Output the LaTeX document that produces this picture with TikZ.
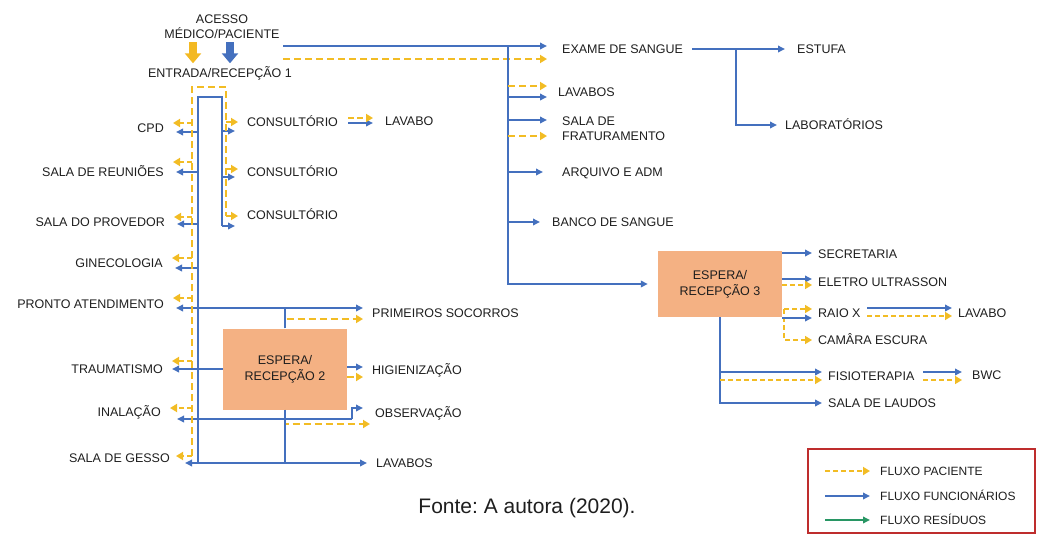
\documentclass[tikz,border=0pt]{standalone}
\usepackage{fontspec}
\setmainfont{Liberation Sans}
\usetikzlibrary{arrows.meta}
\definecolor{fblue}{RGB}{68,112,190}
\definecolor{fgold}{RGB}{242,188,36}
\definecolor{fsalmon}{RGB}{244,177,131}
\definecolor{fgreen}{RGB}{40,150,100}
\definecolor{fred}{RGB}{190,45,45}
\definecolor{ftext}{RGB}{30,30,30}
\frenchspacing
\begin{document}
\begin{tikzpicture}[x=1pt,y=-1pt,
  >={Triangle[length=7pt,width=6.5pt]},
  blu/.style={draw=fblue,line width=1.8pt},
  pat/.style={draw=fgold,line width=2.6pt,dash pattern=on 7pt off 4pt},
  patthin/.style={draw=fgold,line width=1.6pt,dash pattern=on 5pt off 3pt},
  ptip/.style={-{Triangle[length=7pt,width=8pt]}},
  lbl/.style={font=\fontsize{12.5}{15}\selectfont,text=ftext,inner sep=0pt,anchor=west,text height=9pt,text depth=0pt},
  lbr/.style={lbl,anchor=east},
  lblm/.style={font=\fontsize{12.5}{15}\selectfont,text=ftext,inner sep=0pt},
  room/.style={fill=fsalmon,font=\fontsize{12.5}{16}\selectfont,text=ftext,align=center,inner sep=0pt},
  bigarrow/.style={line width=8pt,-{Triangle[length=10pt,width=16pt]}}
]
\useasboundingbox (0,0) rectangle (1037,536);

% ---------- entrance ----------
\node[lblm,align=center] (acesso) at (222,27) {ACESSO\\MÉDICO/PACIENTE};
\node[lbl,anchor=center] (entrada) at (220,73) {ENTRADA/RECEPÇÃO 1};
\coordinate (inY) at (193,42);
\coordinate (inB) at (230,42);
\draw[bigarrow,draw=fgold!95!orange] (inY) -- (inY |- entrada.north) [shorten >=5pt];
\draw[bigarrow,draw=fblue] (inB) -- (inB |- entrada.north) [shorten >=5pt];

% ---------- main corridor to the right ----------
\node[lbl] (exame) at (562,49) {EXAME DE SANGUE};
\node[lbl] (estufa) at (797,49) {ESTUFA};
\node[lbl] (labs) at (785,125) {LABORATÓRIOS};
\node[lbl] (lavs1) at (558,92) {LAVABOS};
\node[lblm,align=left,anchor=west] (fatur) at (562,129) {SALA DE\\FRATURAMENTO};
\node[lbl] (arq) at (562,172) {ARQUIVO E ADM};
\node[lbl] (banco) at (552,222) {BANCO DE SANGUE};
\node[room,minimum width=124pt,minimum height=66pt] (esp3) at (720,284) {ESPERA/\\RECEPÇÃO 3};

\coordinate (acB) at (283,46);
\coordinate (acY) at (283,59);
\coordinate (busT) at (508,46);
\draw[blu,->,shorten >=15pt] (acB) -- (acB -| exame.west);
\draw[pat,ptip,shorten >=15pt] (acY) -- (acY -| exame.west);
\draw[blu,->,shorten >=10pt] (busT) |- (esp3.west);

\coordinate (bLy) at (508,86);
\coordinate (bLb) at (508,97);
\coordinate (bFb) at (508,120);
\coordinate (bFy) at (508,136);
\coordinate (bA) at (508,172);
\coordinate (bBn) at (508,222);
\draw[pat,ptip,shorten >=11pt] (bLy) -- (bLy -| lavs1.west);
\draw[blu,->,shorten >=11pt] (bLb) -- (bLb -| lavs1.west);
\draw[blu,->,shorten >=15pt] (bFb) -- (bFb -| fatur.west);
\draw[pat,ptip,shorten >=15pt] (bFy) -- (bFy -| fatur.west);
\draw[blu,->,shorten >=19pt] (bA) -- (bA -| arq.west);
\draw[blu,->,shorten >=12pt] (bBn) -- (bBn -| banco.west);

\coordinate (exJ) at (736,49);
\draw[blu,->,shorten <=9pt,shorten >=12pt] (exame.east) -- (estufa.west);
\draw[blu,->,shorten >=8pt] (exJ) |- (labs.west);

% ---------- waiting room 3 ----------
\node[lbl] (secr) at (818,254) {SECRETARIA};
\node[lbl] (eletro) at (818,282) {ELETRO ULTRASSON};
\node[lbl] (raiox) at (818,313) {RAIO X};
\node[lbl] (lav3) at (958,313) {LAVABO};
\node[lbl] (camara) at (818,340) {CAMÂRA ESCURA};
\node[lbl] (fisio) at (828,376) {FISIOTERAPIA};
\node[lbl] (bwc) at (972,375) {BWC};
\node[lbl] (laudos) at (828,403) {SALA DE LAUDOS};

\coordinate (sB) at (782,253);
\coordinate (elB) at (782,279);
\coordinate (elY) at (782,285);
\coordinate (rxY) at (784,309);
\coordinate (rxB) at (782,318);
\coordinate (lvB) at (867,308);
\coordinate (lvY) at (867,316);
\coordinate (fsB) at (720,372);
\coordinate (fsY) at (720,380);
\coordinate (bwB) at (923,372);
\coordinate (bwY) at (923,380);

\draw[blu,->,shorten >=6pt] (sB) -- (sB -| secr.west);
\draw[blu,->,shorten >=6pt] (elB) -- (elB -| eletro.west);
\draw[patthin,ptip,shorten >=6pt] (elY) -- (elY -| eletro.west);
\draw[patthin,ptip,shorten >=6pt] (rxY) -- (rxY -| raiox.west);
\draw[patthin,ptip,shorten >=6pt] (rxY) |- (camara.west);
\draw[blu,->,shorten >=6pt] (rxB) -- (rxB -| raiox.west);
\draw[blu,->,shorten >=6pt] (lvB) -- (lvB -| lav3.west);
\draw[patthin,ptip,shorten >=6pt] (lvY) -- (lvY -| lav3.west);
\draw[blu,->,shorten >=6pt] (esp3.south) |- (laudos.west);
\draw[blu,->,shorten >=6pt] (fsB) -- (fsB -| fisio.west);
\draw[patthin,ptip,shorten >=6pt] (fsY) -- (fsY -| fisio.west);
\draw[blu,->,shorten >=10pt] (bwB) -- (bwB -| bwc.west);
\draw[patthin,ptip,shorten >=10pt] (bwY) -- (bwY -| bwc.west);

% ---------- consulting rooms ----------
\node[lbl] (cons1) at (247,122) {CONSULTÓRIO};
\node[lbl] (cons2) at (247,172) {CONSULTÓRIO};
\node[lbl] (cons3) at (247,215) {CONSULTÓRIO};
\node[lbl] (lav1) at (385,121) {LAVABO};

% ---------- left wing labels ----------
\node[lbr] (cpd) at (164,128) {CPD};
\node[lbr] (reun) at (164,172) {SALA DE REUNIÕES};
\node[lbr] (prov) at (165,222) {SALA DO PROVEDOR};
\node[lbr] (gine) at (163,263) {GINECOLOGIA};
\node[lbr] (pronto) at (164,304) {PRONTO ATENDIMENTO};
\node[lbr] (traum) at (163,369) {TRAUMATISMO};
\node[lbr] (inal) at (161,412) {INALAÇÃO};
\node[lbr] (gesso) at (170,458) {SALA DE GESSO};

\node[room,minimum width=124pt,minimum height=81pt] (esp2) at (285,369) {ESPERA/\\RECEPÇÃO 2};
\node[lbl] (prim) at (372,313) {PRIMEIROS SOCORROS};
\node[lbl] (higien) at (372,370) {HIGIENIZAÇÃO};
\node[lbl] (observ) at (375,413) {OBSERVAÇÃO};
\node[lbl] (lavs2) at (376,463) {LAVABOS};

% staff corridor (blue)
\coordinate (bTL) at (198,97);
\coordinate (bTR) at (222,97);
\coordinate (bBL) at (198,463);
\coordinate (bR1) at (222,131);
\coordinate (bR2) at (222,177);
\coordinate (bR3) at (222,226);
\coordinate (pJ) at (198,308);
\coordinate (oJ) at (352,419);
\coordinate (oU) at (352,408);
\coordinate (hB) at (347,367);
\coordinate (hY) at (347,377);
\coordinate (lB) at (348,123);
\coordinate (lY) at (348,118);
\coordinate (e2t) at (285,319);
\coordinate (e2b) at (285,424);

\draw[blu] (bBL) -- (bTL) -- (bTR) -- (bR3);
\draw[blu,->,shorten >=12pt] (bR1) -- (bR1 -| cons1.west);
\draw[blu,->,shorten >=12pt] (bR2) -- (bR2 -| cons2.west);
\draw[blu,->,shorten >=12pt] (bR3) -- (bR3 -| cons3.west);
\draw[blu,->,shorten >=12pt] (lB) -- (lB -| lav1.west);
\draw[pat,ptip,shorten >=12pt,dash pattern=on 6pt off 3pt] (lY) -- (lY -| lav1.west);

\foreach \n/\bb in {cpd/132,reun/172,prov/224,gine/268}{
  \coordinate (bl-\n) at (198,\bb);
  \draw[blu,->,shorten >=12pt] (bl-\n) -- (bl-\n -| \n.east);
}
\draw[blu,->,shorten >=12pt] (pJ) -- (pJ -| pronto.east);
\draw[blu,->,shorten >=9pt] (pJ) -- (pJ -| prim.west);
\draw[blu,->,shorten >=9pt] (esp2.west) -- (esp2.west -| traum.east);
\draw[blu,->,shorten >=9pt] (hB) -- (hB -| higien.west);
\draw[blu,->,shorten >=16pt] (oJ) -- (oJ -| inal.east);
\draw[blu,->,shorten >=12pt] (oJ) -- (oU) -- (oU -| observ.west);
\draw[blu,->,shorten >=15pt] (bBL) -- (bBL -| gesso.east);
\draw[blu,->,shorten >=9pt] (bBL) -- (bBL -| lavs2.west);

% patient corridor (yellow)
\coordinate (yTL) at (192,87);
\coordinate (yTR) at (226,87);
\coordinate (yBL) at (192,456);
\coordinate (yR1) at (226,122);
\coordinate (yR2) at (226,169);
\coordinate (yR3) at (226,216);

\draw[pat] (yBL) -- (yTL) -- (yTR) -- (yR3);
\draw[pat,ptip,shorten >=9pt] (yR1) -- (yR1 -| cons1.west);
\draw[pat,ptip,shorten >=9pt] (yR2) -- (yR2 -| cons2.west);
\draw[pat,ptip,shorten >=9pt] (yR3) -- (yR3 -| cons3.west);
\foreach \n/\yy in {cpd/123,reun/162,prov/217,gine/258,pronto/298,traum/361,inal/408}{
  \coordinate (yl-\n) at (192,\yy);
  \draw[pat,ptip,shorten >=9pt,dash pattern=on 5pt off 3pt] (yl-\n) -- (yl-\n -| \n.east);
}
\draw[pat,ptip,shorten >=6pt,dash pattern=on 5pt off 3pt] (yBL) -- (yBL -| gesso.east);

% waiting room 2 links
\draw[pat,ptip,shorten >=9pt] (esp2.north) -- (e2t) -- (e2t -| prim.west);
\draw[pat,ptip,shorten >=9pt] (hY) -- (hY -| higien.west);
\draw[pat,ptip,shorten >=5pt] (esp2.south) -- (e2b) -- (e2b -| observ.west);
\draw[blu] (esp2.north) -- (esp2.north |- pJ);
\draw[blu] (esp2.south) -- (esp2.south |- bBL);

% ---------- legend ----------
\draw[fred,line width=1.2pt] (808,449) rectangle (1035,533);
\node[lbl,font=\fontsize{12}{14}\selectfont] (lgP) at (880,471) {FLUXO PACIENTE};
\node[lbl,font=\fontsize{12}{14}\selectfont] (lgF) at (880,496) {FLUXO FUNCIONÁRIOS};
\node[lbl,font=\fontsize{12}{14}\selectfont] (lgR) at (880,520) {FLUXO RESÍDUOS};
\coordinate (lg1) at (825,471);
\coordinate (lg2) at (825,496);
\coordinate (lg3) at (825,520);
\draw[draw=fgold,line width=2pt,dash pattern=on 5pt off 3pt,ptip,shorten >=10pt] (lg1) -- (lg1 -| lgP.west);
\draw[blu,->,shorten >=10pt] (lg2) -- (lg2 -| lgF.west);
\draw[draw=fgreen,line width=1.8pt,->,shorten >=10pt] (lg3) -- (lg3 -| lgR.west);

% ---------- source ----------
\node[font=\fontsize{21}{25}\selectfont,text=ftext,inner sep=0pt] (fonte) at (527,508) {Fonte: A autora (2020).};
\end{tikzpicture}
\end{document}
